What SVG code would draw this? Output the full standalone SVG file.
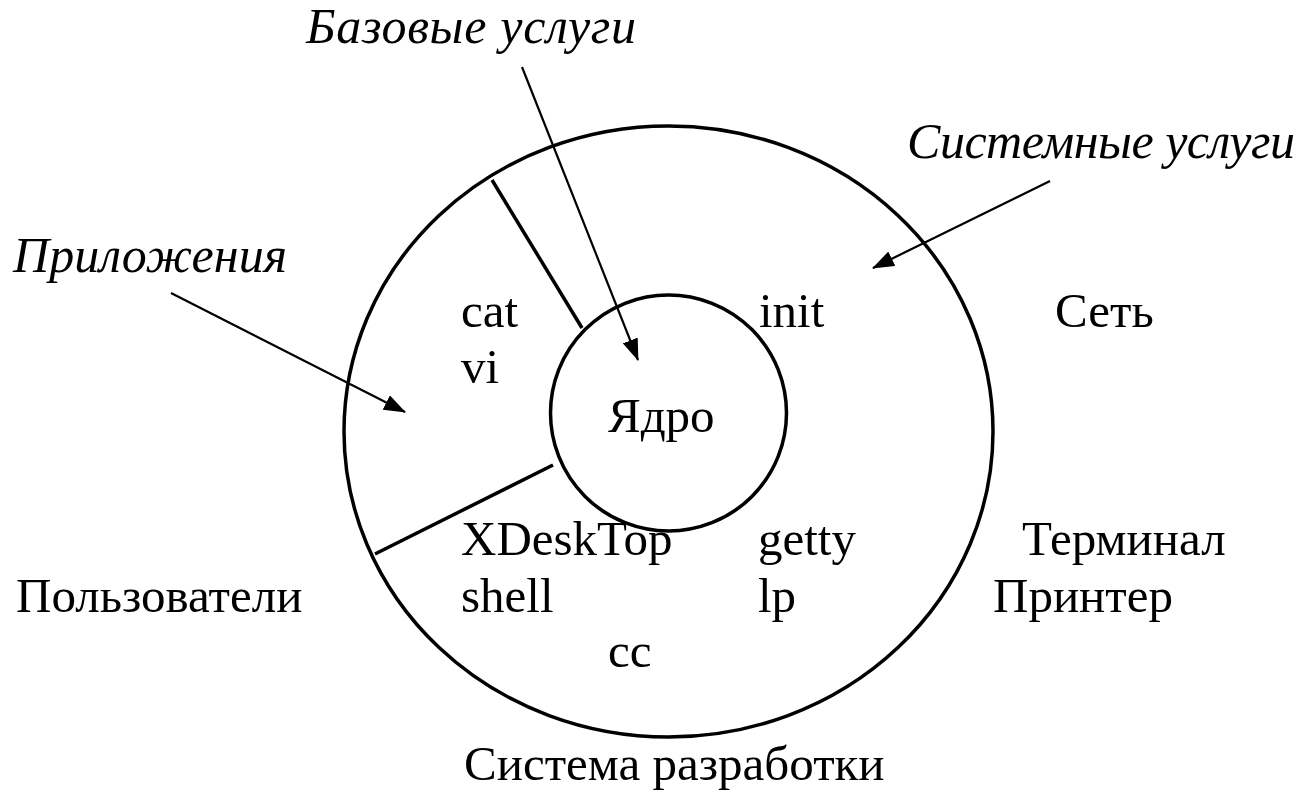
<svg xmlns="http://www.w3.org/2000/svg" width="1307" height="795" viewBox="0 0 1307 795">
  <style>
    text { font-family: "Liberation Serif", "Times New Roman", Times, serif; font-size: 49px; fill: #000; }
    .i { font-style: italic; font-size: 50px; }
    .ring { fill: none; stroke: #000; stroke-width: 3.5; }
    .div { stroke: #000; stroke-width: 3.5; }
    .arr { stroke: #000; stroke-width: 2.2; fill: none; marker-end: url(#head); }
  </style>
  <defs>
    <marker id="head" viewBox="0 0 22 16" refX="21" refY="8" markerWidth="22" markerHeight="16" markerUnits="userSpaceOnUse" orient="auto">
      <path d="M0,0 L22,8 L0,16 Z" fill="#000"/>
    </marker>
  </defs>
  <rect width="1307" height="795" fill="#fff"/>

  <!-- outer shell: system services area -->
  <g id="shell">
    <ellipse class="ring" cx="668.5" cy="431.5" rx="324.5" ry="305.5"/>
  </g>

  <!-- sector borders for the applications area -->
  <g id="dividers">
    <line class="div" x1="492" y1="180" x2="582" y2="328"/>
    <line class="div" x1="375" y1="554" x2="553" y2="465"/>
  </g>

  <!-- kernel -->
  <g id="kernel">
    <circle class="ring" cx="668.5" cy="413" r="118"/>
    <text x="608" y="432">Ядро</text>
  </g>

  <g id="apps">
    <text x="461" y="327">cat</text>
    <text x="461" y="383">vi</text>
  </g>

  <g id="daemons">
    <text x="759" y="327">init</text>
    <text x="758" y="555">getty</text>
    <text x="758" y="612">lp</text>
  </g>

  <g id="tools">
    <text x="461" y="555">XDeskTop</text>
    <text x="461" y="612">shell</text>
    <text x="608" y="667">cc</text>
  </g>

  <g id="outside">
    <text x="1055" y="327">Сеть</text>
    <text x="1022" y="555">Терминал</text>
    <text x="993" y="612">Принтер</text>
    <text x="16" y="612">Пользователи</text>
    <text x="464" y="780">Система разработки</text>
  </g>

  <g id="captions">
    <text class="i" x="306" y="43" textLength="330">Базовые услуги</text>
    <text class="i" x="907" y="158" textLength="388">Системные услуги</text>
    <text class="i" x="13" y="272" textLength="274">Приложения</text>
  </g>

  <!-- pointers from captions into their areas -->
  <g id="connectors">
    <line class="arr" x1="522" y1="67" x2="638" y2="360"/>
    <line class="arr" x1="171" y1="293" x2="405" y2="412"/>
    <line class="arr" x1="1050" y1="181" x2="873" y2="268"/>
  </g>
</svg>
